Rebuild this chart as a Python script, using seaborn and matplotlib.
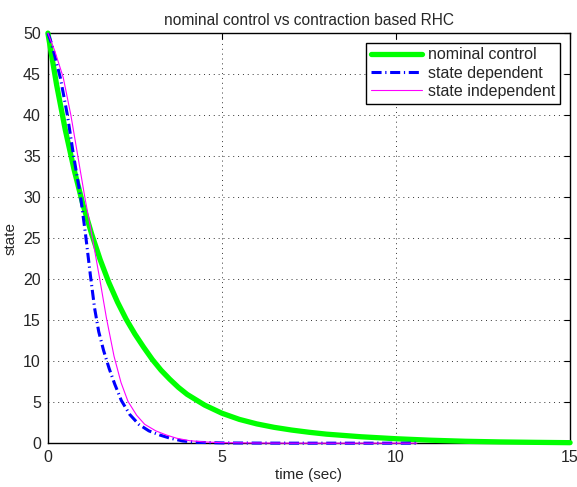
import matplotlib
matplotlib.use('Agg')
import matplotlib.pyplot as plt
import pandas as pd
import seaborn as sns

# values
t_nominal = [0, 0.25, 0.5, 0.75, 1.0, 1.25, 1.5, 1.75, 2.0, 2.25, 2.5, 2.75, 3.0, 3.25,
             3.5, 3.75, 4.0, 4.5, 5.0, 5.5, 6.0, 6.5, 7.0, 7.5, 8.0, 9.0, 10.0, 11.0,
             12.0, 13.0, 14.0, 15.0]
x_nominal = [50, 43.7, 38.2, 33.4, 29.2, 25.6, 22.4, 19.6, 17.2, 15.1, 13.3, 11.7, 10.2, 8.9,
             7.8, 6.8, 5.95, 4.65, 3.65, 2.9, 2.35, 1.93, 1.6, 1.33, 1.1, 0.78, 0.54, 0.36,
             0.23, 0.15, 0.1, 0.06]

t_dependent = [0, 0.1, 0.2, 0.36, 0.56, 0.74, 0.94, 1.08, 1.22, 1.34, 1.46, 1.6, 1.76, 1.92,
               2.11, 2.35, 2.61, 2.9, 3.21, 3.5, 3.87, 4.3, 5.0, 6.0, 7.0, 8.0, 9.0, 10.0,
               10.6]
x_dependent = [50, 48.8, 47.2, 44.5, 40, 35, 30, 25.5, 20.5, 16.5, 13.6, 11.3, 9.1, 7.2,
               5.2, 3.5, 2.3, 1.5, 1.0, 0.62, 0.27, 0.1, 0.03, 0.01, 0, 0, 0, 0,
               0]

t_independent = [0, 0.2, 0.44, 0.66, 0.86, 1.06, 1.28, 1.49, 1.68, 1.9, 2.1, 2.3, 2.55,
                 2.78, 3.1, 3.4, 3.7, 4.07, 4.5, 5.0, 6.0, 7.0, 8.0, 9.0, 10.0, 10.6]
x_independent = [50, 47.8, 44.6, 40, 35, 30, 25, 20, 15.3, 10.6, 7.4, 5.1, 3.4,
                 2.3, 1.5, 1.0, 0.6, 0.3, 0.15, 0.06, 0.02, 0, 0, 0, 0, 0]

x_ticks = [0, 5, 10, 15]
y_ticks = [0, 5, 10, 15, 20, 25, 30, 35, 40, 45, 50]

sns.set_style('white')
plt.rcParams['font.family'] = ['Liberation Sans', 'DejaVu Sans']
plt.rcParams['xtick.direction'] = 'in'
plt.rcParams['ytick.direction'] = 'in'

nominal = pd.DataFrame({'t': t_nominal, 'x': x_nominal})
dependent = pd.DataFrame({'t': t_dependent, 'x': x_dependent})
independent = pd.DataFrame({'t': t_independent, 'x': x_independent})

fig, ax = plt.subplots(figsize=(5.77, 4.87), dpi=100)
fig.subplots_adjust(left=0.083, right=0.988, bottom=0.09, top=0.932)

sns.lineplot(data=nominal, x='t', y='x', ax=ax, color='#00ff00', linewidth=3.8,
             label='nominal control', clip_on=False, zorder=3)
sns.lineplot(data=dependent, x='t', y='x', ax=ax, color='#0000ff', linewidth=2.2,
             linestyle=(0, (3.3, 1.2, 0.4, 1.2)), label='state dependent',
             clip_on=False, zorder=4)
sns.lineplot(data=independent, x='t', y='x', ax=ax, color='#ff00ff', linewidth=0.8,
             label='state independent', clip_on=False, zorder=5)

ax.set_xlim(0, 15)
ax.set_ylim(0, 50)
ax.set_xticks(x_ticks)
ax.set_yticks(y_ticks)
ax.tick_params(labelsize=11.5, length=4, width=0.8, top=True, right=True, color='black',
               pad=5)
ax.grid(True, color='black', linestyle=(0, (1, 4)), linewidth=0.7, alpha=0.8)
for s in ax.spines.values():
    s.set_color('black')
    s.set_linewidth(1.0)

ax.set_title('nominal control vs contraction based RHC', fontsize=11.2, pad=6)
ax.set_xlabel('time (sec)', fontsize=11, labelpad=2)
ax.set_ylabel('state', fontsize=11, labelpad=4)

leg = ax.legend(loc='upper right', fontsize=11.5, frameon=True, fancybox=False,
                framealpha=1, edgecolor='black', handlelength=3.2, labelspacing=0.2,
                borderaxespad=0.6, borderpad=0.3, handletextpad=0.4)
leg.get_frame().set_linewidth(1.0)

plt.savefig('out.png', dpi=100)
